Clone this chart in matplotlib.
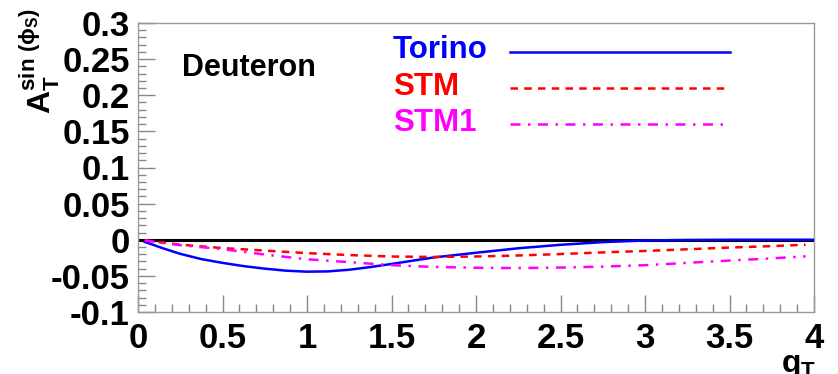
import matplotlib
matplotlib.use("Agg")
import matplotlib.pyplot as plt
from matplotlib.ticker import MultipleLocator, FixedLocator

plt.rcParams['font.family'] = ['Liberation Sans', 'DejaVu Sans']
plt.rcParams['mathtext.fontset'] = 'custom'
plt.rcParams['mathtext.rm'] = 'Liberation Sans:bold'
plt.rcParams['mathtext.bf'] = 'Liberation Sans:bold'
plt.rcParams['mathtext.it'] = 'Liberation Sans:bold'

# ---- data ----
qT_torino = [0.04, 0.15, 0.25, 0.375, 0.5, 0.625, 0.75, 0.875, 1.0, 1.125, 1.25, 1.375, 1.5,
             1.75, 2.0, 2.25, 2.5, 2.75, 3.0, 3.25, 3.5, 3.75, 4.0]
torino = [-0.003, -0.012, -0.0195, -0.0268, -0.032, -0.0365, -0.0400, -0.0428, -0.0442, -0.0438,
          -0.0415, -0.0378, -0.0335, -0.0245, -0.018, -0.0118, -0.007, -0.0033, -0.001, -0.0003,
          0.0, 0.0, 0.0]
qT_stm = [0.04, 0.25, 0.5, 0.75, 1.0, 1.25, 1.5, 1.75, 2.0, 2.25, 2.5, 2.75, 3.0, 3.25, 3.5, 3.75, 3.95]
stm = [-0.001, -0.0068, -0.0115, -0.015, -0.0185, -0.0212, -0.0232, -0.0238, -0.0232, -0.0218,
       -0.0198, -0.0175, -0.0155, -0.0132, -0.0108, -0.0088, -0.0069]
stm1 = [-0.001, -0.0075, -0.013, -0.0205, -0.027, -0.031, -0.0352, -0.0376, -0.0388, -0.0392,
        -0.0385, -0.0372, -0.0352, -0.032, -0.0288, -0.0258, -0.023]

series_names = ["Torino", "STM", "STM1"]
series_colors = ["#0000ff", "#ff0000", "#ff00ff"]

x_ticks = [0, 0.5, 1, 1.5, 2, 2.5, 3, 3.5, 4]
x_ticklabels = ["0", "0.5", "1", "1.5", "2", "2.5", "3", "3.5", "4"]
y_ticks = [-0.1, -0.05, 0, 0.05, 0.1, 0.15, 0.2, 0.25, 0.3]
y_ticklabels = ["-0.1", "-0.05", "0", "0.05", "0.1", "0.15", "0.2", "0.25", "0.3"]

W, H = 838, 374
fig = plt.figure(figsize=(W / 100, H / 100), dpi=100)
ax = fig.add_axes([138 / W, 1 - 312 / H, 676 / W, 289 / H])

ax.set_xlim(0, 4)
ax.set_ylim(-0.1, 0.3)

ax.axhline(0, color='black', lw=2.2, zorder=2)

styles = ['-', (0, (3, 2.5)), (0, (4, 3, 1, 3))]
ax.plot(qT_torino, torino, color=series_colors[0], lw=1.8, ls=styles[0], zorder=3)
ax.plot(qT_stm, stm, color=series_colors[1], lw=1.8, ls=styles[1], zorder=3)
ax.plot(qT_stm, stm1, color=series_colors[2], lw=1.8, ls=styles[2], zorder=3)

# legend built by hand (ROOT style)
ys = [0.905, 0.780, 0.655]
for name, col, st, yy in zip(series_names, series_colors, styles, ys):
    ax.text(0.377, yy, name, color=col, fontsize=22.5, fontweight='bold',
            transform=ax.transAxes, ha='left', va='center')
    ax.plot([0.550, 0.876], [yy - 0.004, yy - 0.004], color=col, lw=1.8, ls=st,
            transform=ax.transAxes)

ax.text(0.065, 0.845, "Deuteron", fontsize=22, fontweight='bold',
        transform=ax.transAxes, ha='left', va='center')

# ticks
ax.xaxis.set_major_locator(FixedLocator(x_ticks))
ax.set_xticklabels(x_ticklabels)
ax.yaxis.set_major_locator(FixedLocator(y_ticks))
ax.set_yticklabels(y_ticklabels)
ax.xaxis.set_minor_locator(MultipleLocator(0.1))
ax.yaxis.set_minor_locator(MultipleLocator(0.01))
ax.tick_params(which='both', direction='in', top=False, right=False, color='#888888', width=1)
ax.tick_params(which='major', length=12)
ax.tick_params(which='minor', length=6)
ax.tick_params(axis='y', which='major', pad=6, labelsize=25)
ax.tick_params(axis='x', which='major', pad=7, labelsize=25)
for lab in ax.get_xticklabels() + ax.get_yticklabels():
    lab.set_fontweight('bold')
for sp in ax.spines.values():
    sp.set_color('#999999')
    sp.set_linewidth(1)

fig.text(18 / W, 1 - 8 / H, r'$\mathbf{A}_{\mathbf{T}}^{\mathbf{sin}\ (\phi_{\mathbf{S}})}$',
         rotation=90, fontsize=23, ha='left', va='top')
fig.text(816 / W, 1 - 351 / H, r'$\mathbf{q}_{\mathbf{T}}$', fontsize=23, ha='right', va='top')

fig.savefig("out.png", dpi=100)
